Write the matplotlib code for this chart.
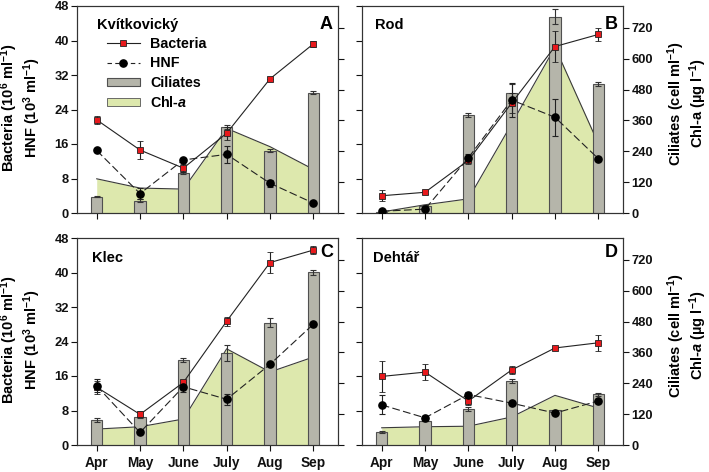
import matplotlib
matplotlib.use('Agg')
import matplotlib.pyplot as plt
from matplotlib.lines import Line2D
from matplotlib.patches import Patch
import numpy as np

plt.rcParams['font.family'] = ['Liberation Sans', 'DejaVu Sans']
plt.rcParams['font.weight'] = 'bold'
plt.rcParams['mathtext.fontset'] = 'custom'
plt.rcParams['mathtext.rm'] = 'Liberation Sans:bold'
plt.rcParams['mathtext.it'] = 'Liberation Sans:bold:italic'
plt.rcParams['mathtext.bf'] = 'Liberation Sans:bold'
plt.rcParams['axes.linewidth'] = 0.8

months = ['Apr', 'May', 'June', 'July', 'Aug', 'Sep']

# Kvítkovický (A)
a_bact = [21.6, 14.6, 10.4, 18.5, 31.1, 39.2]
a_bact_err = [1.0, 2.0, 1.0, 1.5, 0.0, 0.8]
a_hnf = [14.5, 4.5, 12.3, 13.6, 6.9, 2.3]
a_hnf_err = [0.0, 1.2, 0.0, 2.0, 0.8, 0.0]
a_cil = [64, 48, 155, 335, 243, 468]
a_cil_err = [3, 5, 4, 8, 5, 6]
a_chl = [133, 97, 93, 329, 258, 170]

# Rod (B)
b_bact = [4.0, 4.8, 12.2, 25.5, 38.6, 41.4]
b_bact_err = [1.3, 0.3, 0.8, 2.3, 3.6, 1.5]
b_hnf = [0.4, 0.9, 12.8, 26.2, 22.2, 12.6]
b_hnf_err = [0.2, 0.3, 0.8, 4.0, 4.3, 0.0]
b_cil = [5, 28, 381, 465, 764, 503]
b_cil_err = [0, 2, 8, 35, 30, 8]
b_chl = [4, 32, 55, 347, 645, 270]

# Klec (C)
c_bact = [13.4, 7.1, 14.5, 28.7, 42.3, 45.2]
c_bact_err = [1.5, 0.7, 0.5, 1.0, 2.5, 1.0]
c_hnf = [13.7, 2.9, 13.5, 10.6, 18.7, 28.0]
c_hnf_err = [1.5, 0.0, 1.2, 1.3, 0.0, 0.5]
c_cil = [97, 107, 329, 357, 475, 671]
c_cil_err = [8, 3, 8, 30, 17, 8]
c_chl = [62, 71, 101, 374, 284, 342]

# Dehtář (D)
d_bact = [15.9, 16.9, 10.2, 17.4, 22.5, 23.7]
d_bact_err = [3.5, 1.8, 1.0, 1.0, 0.0, 1.8]
d_hnf = [9.3, 6.3, 11.7, 9.7, 7.4, 10.2]
d_hnf_err = [2.2, 0.0, 0.7, 0.0, 0.0, 0.0]
d_cil = [49, 93, 139, 248, 135, 197]
d_cil_err = [4, 0, 8, 8, 2, 5]
d_chl = [67, 71, 73, 109, 193, 144]

left_ticks = [0, 8, 16, 24, 32, 40, 48]
right_ticks = [0, 120, 240, 360, 480, 600, 720]

RED = '#e8191c'
BAR = '#b5b5aa'
BAR_EDGE = '#505050'
CHL = '#dde8ad'
DARK = '#222222'

fig = plt.figure(figsize=(7.09, 4.72), dpi=100)

W = 261 / 709
H = 207 / 472
rects = {
    'A': [77 / 709, 1 - 213 / 472, W, H],
    'B': [362 / 709, 1 - 213 / 472, W, H],
    'C': [77 / 709, 1 - 445 / 472, W, H],
    'D': [362 / 709, 1 - 445 / 472, W, H],
}

panels = [
    ('A', 'Kvítkovický', a_bact, a_bact_err, a_hnf, a_hnf_err, a_cil, a_cil_err, a_chl, (0.077, 0.908), 0.913),
    ('B', 'Rod', b_bact, b_bact_err, b_hnf, b_hnf_err, b_cil, b_cil_err, b_chl, (0.05, 0.908), 0.913),
    ('C', 'Klec', c_bact, c_bact_err, c_hnf, c_hnf_err, c_cil, c_cil_err, c_chl, (0.057, 0.902), 0.928),
    ('D', 'Dehtář', d_bact, d_bact_err, d_hnf, d_hnf_err, d_cil, d_cil_err, d_chl, (0.041, 0.902), 0.928),
]

x = np.arange(len(months))

for key, title, bact, bact_err, hnf, hnf_err, cil, cil_err, chl, tpos, lety in panels:
    ax = fig.add_axes(rects[key])
    axr = ax.twinx()
    ax.set_zorder(axr.get_zorder() + 1)
    ax.patch.set_visible(False)

    # Chl-a area + ciliates bars on right axis
    axr.fill_between(x, 0, chl, color=CHL, lw=0, zorder=1)
    axr.plot(x, chl, color='#3a3a3a', lw=0.8, zorder=2)
    axr.bar(x, cil, width=0.26, color=BAR, edgecolor=BAR_EDGE, lw=0.8, zorder=3,
            yerr=cil_err, error_kw=dict(ecolor='#333333', elinewidth=0.8, capsize=2.5, capthick=0.8, zorder=4))

    # Bacteria + HNF on left axis
    ax.errorbar(x, bact, yerr=bact_err, fmt='-', color=DARK, lw=0.8, marker='s', mfc=RED, mec=DARK,
                ms=5, mew=0.6, capsize=2.5, capthick=0.8, elinewidth=0.8, ecolor=DARK, zorder=5)
    ax.errorbar(x, hnf, yerr=hnf_err, fmt='--', color=DARK, lw=0.8, marker='o', mfc='black', mec='black',
                ms=5.2, capsize=2.5, capthick=0.8, elinewidth=0.8, ecolor=DARK, dashes=(7, 3), zorder=5)

    ax.set_xlim(-0.455, 5.57)
    ax.set_ylim(0, 48)
    axr.set_ylim(0, 805)
    ax.set_yticks(left_ticks)
    axr.set_yticks(right_ticks)
    ax.set_xticks(x)

    for a in (ax, axr):
        a.tick_params(direction='out', length=4, width=0.8, labelsize=9.3, pad=2, colors='#111111')
        for sp in a.spines.values():
            sp.set_linewidth(0.8)
            sp.set_color('#333333')

    if key in ('A', 'B'):
        ax.set_xticklabels([])
    else:
        ax.set_xticklabels(months, fontsize=9.8, fontweight='bold')
        ax.tick_params(axis='x', pad=4)

    if key in ('A', 'C'):
        axr.set_yticklabels([])
        ax.text(-0.215, 0.51, 'Bacteria (10$^{6}$ ml$^{-1}$)\nHNF (10$^{3}$ ml$^{-1}$)',
                rotation=90, ha='center', va='center', transform=ax.transAxes,
                fontsize=10.5, fontweight='bold', linespacing=1.05, multialignment='center')
    else:
        ax.set_yticklabels([])
        chl_lbl = 'Chl-a (µg l$^{-1}$)' if key == 'B' else 'Chl-$a$ (µg l$^{-1}$)'
        ax.text(1.245, 0.53, 'Ciliates (cell ml$^{-1}$)\n' + chl_lbl,
                rotation=90, ha='center', va='center', transform=ax.transAxes,
                fontsize=10.5, fontweight='bold', linespacing=1.05, multialignment='center')

    ax.text(tpos[0], tpos[1], title, transform=ax.transAxes, ha='left', va='center',
            fontsize=10.5, fontweight='bold')
    ax.text(0.981, lety, key, transform=ax.transAxes, ha='right', va='center',
            fontsize=13, fontweight='bold')

    if key == 'A':
        handles = [
            Line2D([], [], color=DARK, lw=0.8, marker='s', mfc=RED, mec=DARK, ms=5, mew=0.6),
            Line2D([], [], color=DARK, lw=0.8, ls='--', dashes=(4, 3), marker='o', mfc='black', mec='black', ms=5.2),
            Patch(facecolor=BAR, edgecolor=BAR_EDGE, lw=0.8),
            Patch(facecolor=CHL, edgecolor='#555555', lw=0.6),
        ]
        labels = ['Bacteria', 'HNF', 'Ciliates', 'Chl-$a$']
        leg = ax.legend(handles, labels, loc='upper left', bbox_to_anchor=(0.115, 0.85),
                        frameon=False, handlelength=2.3, handleheight=0.5,
                        handletextpad=0.7, labelspacing=0.38, borderpad=0, borderaxespad=0,
                        prop={'weight': 'bold', 'size': 10.3})

fig.savefig('out.png', dpi=100)
